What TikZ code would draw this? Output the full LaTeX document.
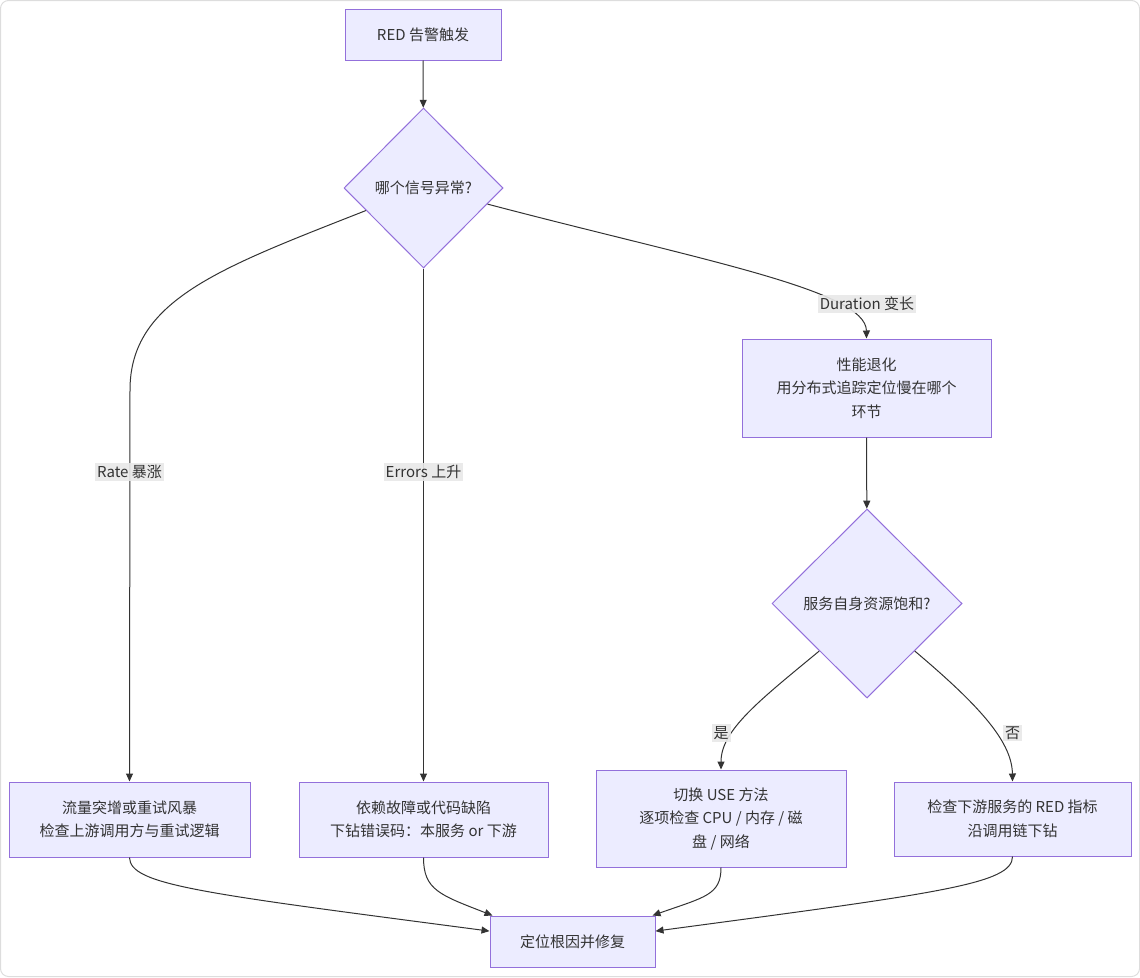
\documentclass[tikz,border=0pt]{standalone}
\usepackage{fontspec}
\setmainfont{Noto Sans CJK SC}
\usetikzlibrary{shapes.geometric,arrows.meta,calc}
\definecolor{nodefill}{HTML}{ECECFF}
\definecolor{nodeborder}{HTML}{9370DB}
\definecolor{txt}{HTML}{333333}
\definecolor{lblbg}{HTML}{E8E8E8}
\definecolor{framecol}{HTML}{DDDDDD}
\begin{document}
\begin{tikzpicture}[x=1pt,y=-1pt,
  box/.style={draw=nodeborder, fill=nodefill, line width=1pt, text=txt, align=center,
    font=\fontsize{15}{23.5}\selectfont, inner sep=0pt},
  decision/.style={diamond, aspect=1, draw=nodeborder, fill=nodefill, line width=1pt, text=txt,
    align=center, font=\fontsize{15}{20}\selectfont, inner sep=0pt},
  edge/.style={draw=txt, line width=1pt, -{Triangle[length=8pt,width=7pt]}},
  lbl/.style={fill=lblbg, fill opacity=0.9, text opacity=1, text=txt,
    font=\fontsize{15}{18}\selectfont, inner sep=2pt}
]
\useasboundingbox (0,0) rectangle (1140,977);
\draw[framecol, line width=1pt, rounded corners=8pt] (0.5,0.5) rectangle (1139.5,976.5);

% nodes
\node[box, minimum width=156pt, minimum height=51pt] (A) at (423,34.5) {RED 告警触发};
\node[decision, minimum width=159pt, minimum height=160pt] (B) at (423.5,188) {哪个信号异常?};
\node[box, minimum width=241pt, minimum height=75pt] (C) at (129.5,819.5) {流量突增或重试风暴\\检查上游调用方与重试逻辑};
\node[box, minimum width=249pt, minimum height=75pt] (D) at (423.5,819.5) {依赖故障或代码缺陷\\下钻错误码：本服务 or 下游};
\node[box, minimum width=249pt, minimum height=98pt] (E) at (866.5,388) {性能退化\\用分布式追踪定位慢在哪个\\环节};
\node[decision, minimum width=190pt, minimum height=189pt] (F) at (867,603.5) {服务自身资源饱和?};
\node[box, minimum width=250pt, minimum height=97pt] (G) at (721,818.5) {切换 USE 方法\\逐项检查 CPU / 内存 / 磁\\盘 / 网络};
\node[box, minimum width=237pt, minimum height=74pt] (H) at (1012.5,819) {检查下游服务的 RED 指标\\沿调用链下钻};
\node[box, minimum width=165pt, minimum height=51pt] (I) at (572.5,941.5) {定位根因并修复};

% helper coordinates
\coordinate (Bl) at ($(B.west)!0.28!(B.south)$);
\coordinate (Br) at ($(B.east)!0.2!(B.south)$);
\coordinate (Fl) at ($(F.west)!0.5!(F.south)$);
\coordinate (Fr) at ($(F.east)!0.5!(F.south)$);
\coordinate (Ilt) at ([xshift=3pt]I.north west);
\coordinate (Ill) at ($(I.north west)!0.3!(I.south west)$);
\coordinate (Irt) at ([xshift=-3pt]I.north east);
\coordinate (Irr) at ($(I.north east)!0.3!(I.south east)$);

% edges
\draw[edge] (A) -- (B);
\draw[edge] (Bl) .. controls (220,268) and (130,300) .. (130,390) -- (C.north);
\draw[edge] (B.south) -- (D.north);
\draw[edge] (Br) .. controls (700,260) and (866,290) .. (E.north);
\draw[edge] (E) -- (F);
\draw[edge] (Fl) .. controls (760,700) and (721,730) .. (G.north);
\draw[edge] (Fr) .. controls (975,702) and (1012,740) .. (H.north);
\draw[edge] (C.south) .. controls (130,885) and (200,893) .. (Ill);
\draw[edge] (D.south) .. controls (423.5,890) and (440,895) .. (Ilt);
\draw[edge] (G.south) .. controls (721,895) and (705,897) .. (Irt);
\draw[edge] (H.south) .. controls (1012.5,884) and (940,893) .. (Irr);

% edge labels
\node[lbl] (lr) at (129.5,472) {Rate 暴涨};
\node[lbl] (le) at (423.5,472) {Errors 上升};
\node[lbl] (ld) at (867,304) {Duration 变长};
\node[lbl] (ly) at (721,733) {是};
\node[lbl] (ln) at (1012.5,733) {否};
\end{tikzpicture}
\end{document}
